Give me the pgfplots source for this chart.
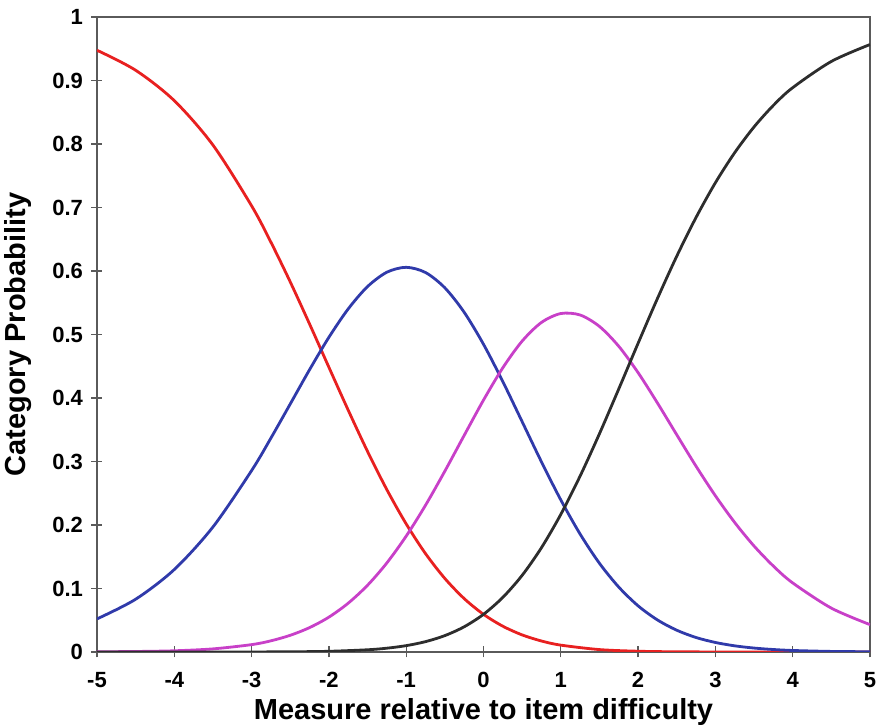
\documentclass[border=0pt]{standalone}
\usepackage{fontspec}
\setmainfont{Liberation Sans}
\setsansfont{Liberation Sans}
\usepackage{pgfplots}
\pgfplotsset{compat=1.18}
\definecolor{cred}{RGB}{232,32,32}
\definecolor{cblue}{RGB}{48,58,170}
\definecolor{cmag}{RGB}{200,64,200}
\definecolor{cblack}{RGB}{45,45,45}
\definecolor{caxis}{RGB}{90,90,90}
\begin{document}
\begin{tikzpicture}
\path[use as bounding box] (-97pt,-75pt) rectangle (782pt,652pt);
\begin{axis}[
  scale only axis,
  width=773pt, height=635pt,
  xmin=-5, xmax=5, ymin=0, ymax=1,
  xtick={-5,-4,...,5},
  ytick={0,0.1,...,1},
  yticklabels={0,0.1,0.2,0.3,0.4,0.5,0.6,0.7,0.8,0.9,1},
  axis line style={caxis, line width=1.2pt},
  tick style={caxis, line width=1.3pt},
  tick align=center,
  major tick length=11pt,
  xtick pos=bottom, ytick pos=left,
  /pgf/number format/assume math mode=true,
  tick label style={font=\fontsize{22}{24}\selectfont\bfseries},
  xticklabel style={yshift=-11pt},
  yticklabel style={xshift=-5pt},
  xlabel={Measure relative to item difficulty},
  ylabel={Category Probability},
  label style={font=\fontsize{29}{32}\selectfont\bfseries},
  xlabel style={at={(axis description cs:0.5,-0.0945)}, anchor=center},
  ylabel style={at={(axis description cs:-0.102,0.5)}, anchor=center},
  every axis plot/.append style={line width=2.8pt, smooth},
]
\addplot[cred] coordinates {
(-5,0.9476)(-4.5,0.9161)(-4,0.8682)(-3.5,0.7983)(-3,0.7026)(-2.75,0.6453)(-2.5,0.5828)(-2.25,0.5165)(-2,0.4484)(-1.75,0.3808)(-1.5,0.3158)(-1.25,0.2556)(-1,0.2017)(-0.75,0.1549)(-0.5,0.1158)(-0.25,0.0841)(0,0.0593)(0.25,0.0406)(0.5,0.0269)(0.75,0.0173)(1,0.0108)(1.5,0.0038)(2,0.0012)(2.5,0.0003)(3,0.0001)(3.5,0)(4,0)(4.5,0)(5,0)};
\addplot[cblue] coordinates {
(-5,0.0521)(-4.5,0.0831)(-4,0.1299)(-3.5,0.1969)(-3,0.2857)(-2.75,0.3369)(-2.5,0.3906)(-2.25,0.4446)(-2,0.4956)(-1.75,0.5403)(-1.5,0.5755)(-1.25,0.5981)(-1,0.6058)(-0.75,0.5976)(-0.5,0.5735)(-0.25,0.5350)(0,0.4846)(0.25,0.4258)(0.5,0.3627)(0.75,0.2994)(1,0.2395)(1.25,0.1857)(1.5,0.1397)(1.75,0.1022)(2,0.0727)(2.25,0.0505)(2.5,0.0343)(2.75,0.0228)(3,0.0150)(3.25,0.0097)(3.5,0.0062)(3.75,0.0039)(4,0.0024)(4.5,0.0009)(5,0.0004)};
\addplot[cmag] coordinates {
(-5,0.0003)(-4.5,0.0008)(-4,0.0019)(-3.5,0.0049)(-3,0.0116)(-2.75,0.0176)(-2.5,0.0263)(-2.25,0.0384)(-2,0.0549)(-1.75,0.0769)(-1.5,0.1051)(-1.25,0.1403)(-1,0.1825)(-0.75,0.2311)(-0.5,0.2848)(-0.25,0.3411)(0,0.3967)(0.25,0.4476)(0.5,0.4896)(0.75,0.5190)(1,0.5330)(1.25,0.5307)(1.5,0.5127)(1.75,0.4814)(2,0.4399)(2.25,0.3922)(2.5,0.3421)(2.75,0.2925)(3,0.2460)(3.25,0.2039)(3.5,0.1669)(3.75,0.1353)(4,0.1088)(4.5,0.0691)(5,0.0431)};
\addplot[cblack] coordinates {
(-5,0)(-4.5,0)(-4,0)(-3.5,0)(-3,0.0001)(-2.5,0.0003)(-2,0.0011)(-1.5,0.0035)(-1.25,0.0060)(-1,0.0100)(-0.75,0.0163)(-0.5,0.0258)(-0.25,0.0397)(0,0.0593)(0.25,0.0860)(0.5,0.1207)(0.75,0.1643)(1,0.2167)(1.25,0.2771)(1.5,0.3437)(1.75,0.4143)(2,0.4862)(2.25,0.5566)(2.5,0.6233)(2.75,0.6844)(3,0.7390)(3.25,0.7864)(3.5,0.8269)(3.75,0.8608)(4,0.8887)(4.5,0.9300)(5,0.9566)};
\end{axis}
\end{tikzpicture}
\end{document}
